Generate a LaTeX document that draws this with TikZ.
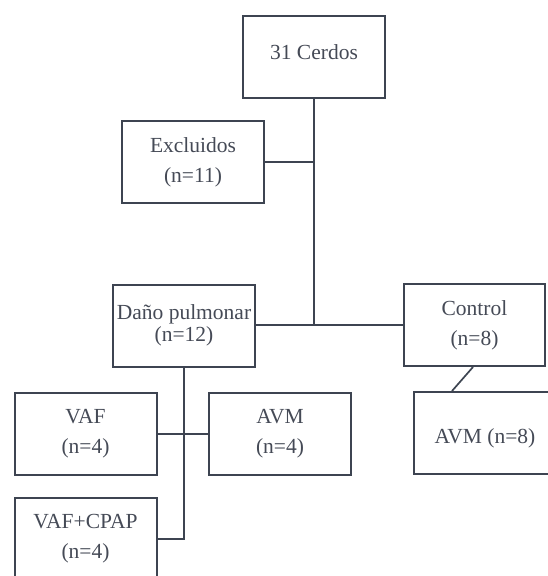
\documentclass[tikz,border=0pt]{standalone}
\usepackage{fontspec}
\setmainfont{Liberation Serif}
\usetikzlibrary{positioning,calc}
\definecolor{boxline}{HTML}{3D4451}
\definecolor{boxtext}{HTML}{454A56}

\begin{document}
\begin{tikzpicture}[x=1pt,y=-1pt,
    group/.style={draw=boxline, line width=2pt, minimum width=142pt, minimum height=82pt,
                  inner sep=0pt, align=center, text=boxtext,
                  font=\fontsize{21.5}{30}\selectfont},
    link/.style={draw=boxline, line width=1.7pt}]
                \useasboundingbox (0,0) rectangle (547,576);

                % Cohort and exclusions
                \node[group, text depth=9.5pt] (cerdos) at (314, 57) {31 Cerdos};
                \node[group] (excl) at (193, 162) {Excluidos\\(n=11)};

                % Main groups
                \node[group] (dano) at (184, 325.5) {Daño pulmonar\\[-8pt](n=12)};
                \node[group, minimum width=141pt] (control) at (474.5, 325) {Control\\(n=8)};

                % Subgroups
                \node[group] (vaf) at (85.5, 434) {VAF\\(n=4)};
                \node[group] (avm) at (280, 434) {AVM\\(n=4)};
                \node[group] (cpap) at (85.5, 539) {VAF+CPAP\\(n=4)};
                \node[group, text height=26pt] (avmctl) at (485, 433) {AVM (n=8)};

                % Connectors
                \draw[link] (cerdos.south) -- (cerdos.south |- control.west);
                \draw[link] (excl.east) -- (excl.east -| cerdos.south);
                \draw[link] (dano.east |- control.west) -- (control.west);
                \draw[link] (dano.south) -- (dano.south |- cpap.east) -- (cpap.east);
                \draw[link] (vaf.east) -- (avm.west);
                \draw[link] ([xshift=-1.5pt]control.south) -- ([xshift=-33pt]avmctl.north);
            \end{tikzpicture}
\end{document}
